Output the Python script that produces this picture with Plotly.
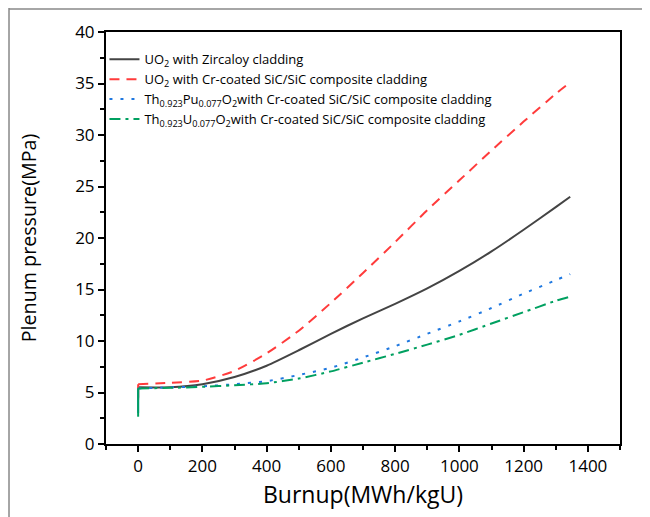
import plotly.graph_objects as go

burnup = [0, 0, 100, 200, 300, 400, 500, 600, 700, 800, 900, 1000, 1100, 1200, 1300, 1345]
uo2_zr = [4.5, 5.5, 5.5, 5.8, 6.5, 7.6, 9.1, 10.7, 12.2, 13.6, 15.1, 16.8, 18.7, 20.8, 23.0, 24.0]
uo2_sic = [4.3, 5.8, 5.95, 6.15, 7.1, 8.8, 11.0, 13.7, 16.6, 19.6, 22.7, 25.6, 28.5, 31.3, 34.0, 35.1]
thpu_sic = [3.0, 5.4, 5.5, 5.6, 5.8, 6.1, 6.7, 7.4, 8.4, 9.5, 10.7, 11.9, 13.2, 14.6, 15.9, 16.5]
thu_sic = [2.65, 5.4, 5.45, 5.55, 5.7, 5.9, 6.35, 7.05, 7.9, 8.75, 9.65, 10.6, 11.7, 12.8, 13.9, 14.3]

names = [
    "UO<sub>2</sub> with Zircaloy cladding",
    "UO<sub>2</sub> with Cr-coated SiC/SiC composite cladding",
    "Th<sub>0.923</sub>Pu<sub>0.077</sub>O<sub>2</sub>with Cr-coated SiC/SiC composite cladding",
    "Th<sub>0.923</sub>U<sub>0.077</sub>O<sub>2</sub>with Cr-coated SiC/SiC composite cladding",
]
series = [uo2_zr, uo2_sic, thpu_sic, thu_sic]
colors = ["#444444", "#ff3b3b", "#1f78e0", "#00a060"]
dashes = ["solid", "10px,7px", "3px,8px", "11px,5px,3px,5px"]

fig = go.Figure()
for i, (n, s, c, d) in enumerate(zip(names, series, colors, dashes)):
    # initial vertical jump at zero burnup
    fig.add_trace(go.Scatter(x=burnup[:2], y=s[:2], mode="lines", name=n, legendgroup=str(i),
                             showlegend=False, line=dict(color=c, width=2)))
    fig.add_trace(go.Scatter(x=burnup[1:], y=s[1:], mode="lines", name=n, legendgroup=str(i),
                             line=dict(color=c, width=2, dash=d, shape="spline", smoothing=0.6)))

axis_common = dict(showline=True, linecolor="black", linewidth=2, mirror=True,
                   ticks="outside", ticklen=6, tickwidth=1.5, tickcolor="black",
                   showgrid=False, zeroline=False, automargin=False,
                   tickfont=dict(family="Open Sans", size=17, color="black"))

fig.update_xaxes(range=[-100, 1500], dtick=200, tick0=0,
                 minor=dict(ticks="outside", ticklen=4, dtick=100, tick0=0, tickcolor="black", tickwidth=1.5),
                 title=dict(text="Burnup(MWh/kgU)", font=dict(family="Open Sans", size=23, color="black"), standoff=10),
                 **axis_common)
fig.update_yaxes(range=[0, 40], dtick=5,
                 minor=dict(ticks="outside", ticklen=4, dtick=2.5, tickcolor="black", tickwidth=1.5),
                 title=dict(text="Plenum pressure(MPa)", font=dict(family="Open Sans", size=19.7, color="black"), standoff=33),
                 **axis_common)

# thin grey frame of the picture (left and top edges)
fig.add_shape(type="line", xref="paper", yref="paper", x0=-0.1887, x1=-0.1887, y0=1.06, y1=-0.25,
              line=dict(color="#888888", width=1.5))
fig.add_shape(type="line", xref="paper", yref="paper", x0=-0.1887, x1=1.2, y0=1.056, y1=1.056,
              line=dict(color="#888888", width=1.5))

fig.update_layout(
    width=650, height=517,
    margin=dict(l=98, r=38, t=24, b=81, autoexpand=False),
    plot_bgcolor="white", paper_bgcolor="white",
    legend=dict(x=-0.003, y=0.97, xanchor="left", yanchor="top",
                bgcolor="rgba(0,0,0,0)", font=dict(family="Open Sans", size=13, color="black"),
                itemwidth=30, tracegroupgap=0),
)

fig.write_html("out.html")
